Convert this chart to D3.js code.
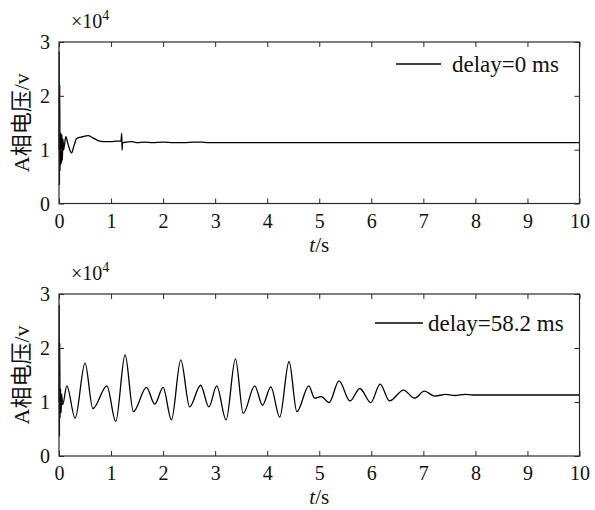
<!DOCTYPE html>
<html>
<head>
<meta charset="utf-8">
<script src="https://cdn.jsdelivr.net/npm/d3@7"></script>
<style>
  html, body { margin: 0; padding: 0; background: #fff; }
  svg { display: block; }
  text { font-family: "Liberation Serif", "Times New Roman", serif, "Noto Sans CJK SC"; fill: #111; }
</style>
</head>
<body>
<svg id="chart" width="595" height="510"></svg>
<script>
// Phase-A voltage (×10^4 V) after fault, no delay
const timeDelay0 = [0, 0.004, 0.009, 0.014, 0.019, 0.025, 0.032, 0.04, 0.048, 0.056, 0.064, 0.075, 0.09,
  0.13, 0.18, 0.24, 0.29, 0.34, 0.45, 0.56, 0.65, 0.75, 0.85, 1.0, 1.1, 1.19, 1.205, 1.212, 1.22,
  1.3, 1.4, 1.5, 1.65, 1.8, 2.0, 2.2, 2.4, 2.6, 2.75, 2.85, 10];
const voltDelay0 = [1.0, 2.83, 0.34, 2.2, 0.6, 1.32, 0.72, 1.3, 0.75, 1.28, 0.8, 1.2, 1.0,
  1.24, 1.08, 0.94, 1.08, 1.21, 1.24, 1.26, 1.22, 1.17, 1.15, 1.15, 1.16, 1.16, 1.30, 0.99, 1.13,
  1.14, 1.15, 1.13, 1.14, 1.13, 1.14, 1.13, 1.13, 1.14, 1.14, 1.13, 1.13];

// Phase-A voltage (×10^4 V) with 58.2 ms delay
const timeDelay58 = [0, 0.004, 0.009, 0.014, 0.02, 0.03, 0.04, 0.05, 0.07, 0.15, 0.31, 0.50, 0.65, 0.92,
  1.09, 1.27, 1.43, 1.68, 1.84, 2.0, 2.16, 2.34, 2.51, 2.72, 2.88, 3.03, 3.21, 3.39, 3.54, 3.76, 3.91,
  4.07, 4.24, 4.42, 4.57, 4.80, 4.91, 5.04, 5.19, 5.38, 5.59, 5.78, 5.99, 6.17, 6.35, 6.62, 6.83, 7.02,
  7.22, 7.43, 7.6, 7.8, 7.95, 8.0, 10];
const voltDelay58 = [1.0, 2.8, 0.36, 2.1, 0.7, 1.25, 0.8, 1.15, 0.95, 1.30, 0.70, 1.72, 0.88, 1.30,
  0.64, 1.87, 0.82, 1.27, 0.96, 1.27, 0.67, 1.78, 0.91, 1.31, 0.91, 1.30, 0.67, 1.80, 0.79, 1.30, 0.94,
  1.28, 0.72, 1.75, 0.82, 1.30, 1.07, 1.10, 0.99, 1.39, 1.02, 1.25, 0.99, 1.33, 1.02, 1.22, 1.07, 1.20,
  1.11, 1.14, 1.12, 1.14, 1.13, 1.13, 1.13];

const xTicks = [0, 1, 2, 3, 4, 5, 6, 7, 8, 9, 10];
const yTicks = [0, 1, 2, 3];
const legendLabels = ["delay=0 ms", "delay=58.2 ms"];
const yLabel = "A相电压/v";

const fontStack = '"Liberation Serif", "Times New Roman", serif, "Noto Sans CJK SC"';
const svg = d3.select("#chart");
const left = 59, right = 579.5;
const panels = [
  { top: 42, bottom: 203.5, t: timeDelay0, v: voltDelay0, label: legendLabels[0],
    leg: { x1: 396, x2: 441, y: 64, tx: 452, ty: 72 } },
  { top: 294, bottom: 456, t: timeDelay58, v: voltDelay58, label: legendLabels[1],
    leg: { x1: 375, x2: 423, y: 323, tx: 428, ty: 331 } }
];

const x = d3.scaleLinear().domain([0, 10]).range([left, right]);
const frameColor = "#2a2a2a";
const tickLen = 5;
const fs = 22;
const tickFs = 20;

panels.forEach(p => {
  const y = d3.scaleLinear().domain([0, 3]).range([p.bottom, p.top]);
  const g = svg.append("g");

  // plotted trace
  const pts = p.t.map((t, i) => [t, p.v[i]]);
  g.append("path")
    .datum(pts)
    .attr("fill", "none")
    .attr("stroke", "#000")
    .attr("stroke-width", 1.3)
    .attr("stroke-linejoin", "round")
    .attr("d", d3.line().x(d => x(d[0])).y(d => y(d[1])).curve(d3.curveMonotoneX));

  // axes with inward ticks on all four sides
  const fmt = d3.format("d");
  const bottomAxis = d3.axisBottom(x).tickValues(xTicks).tickFormat(fmt).tickSizeInner(-tickLen).tickSizeOuter(0).tickPadding(10);
  const topAxis = d3.axisTop(x).tickValues(xTicks).tickSizeInner(-tickLen).tickSizeOuter(0).tickFormat("");
  const leftAxis = d3.axisLeft(y).tickValues(yTicks).tickFormat(fmt).tickSizeInner(-tickLen).tickSizeOuter(0).tickPadding(9);
  const rightAxis = d3.axisRight(y).tickValues(yTicks).tickSizeInner(-tickLen).tickSizeOuter(0).tickFormat("");

  const gb = g.append("g").attr("transform", `translate(0,${p.bottom})`).call(bottomAxis);
  const gt = g.append("g").attr("transform", `translate(0,${p.top})`).call(topAxis);
  const gl = g.append("g").attr("transform", `translate(${left},0)`).call(leftAxis);
  const gr = g.append("g").attr("transform", `translate(${right},0)`).call(rightAxis);
  [gb, gt, gl, gr].forEach(a => {
    a.attr("font-family", fontStack);
    a.select(".domain").remove();
    a.selectAll(".tick line").attr("stroke", frameColor).attr("stroke-width", 1);
    a.selectAll(".tick text").attr("font-size", tickFs).attr("fill", "#111")
      .style("font-family", fontStack);
  });
  gl.selectAll(".tick text").attr("dy", "0.34em");

  // frame box
  g.append("rect")
    .attr("x", left).attr("y", p.top)
    .attr("width", right - left).attr("height", p.bottom - p.top)
    .attr("fill", "none").attr("stroke", frameColor).attr("stroke-width", 1.2);

  // exponent marker
  const ex = g.append("text").attr("x", 71).attr("y", p.top - 14).attr("font-size", 20);
  ex.append("tspan").text("×10");
  ex.append("tspan").attr("font-size", 14).attr("dy", -8).text("4");

  // y label
  g.append("text")
    .attr("transform", `translate(29,${(p.top + p.bottom) / 2}) rotate(-90)`)
    .attr("text-anchor", "middle")
    .attr("font-size", fs)
    .text(yLabel);

  // x label
  const xl = g.append("text")
    .attr("x", x(5)).attr("y", p.bottom + 48)
    .attr("text-anchor", "middle")
    .attr("font-size", 21);
  xl.append("tspan").attr("font-style", "italic").text("t");
  xl.append("tspan").text("/s");

  // legend
  g.append("line")
    .attr("x1", p.leg.x1).attr("x2", p.leg.x2)
    .attr("y1", p.leg.y).attr("y2", p.leg.y)
    .attr("stroke", "#000").attr("stroke-width", 1.3);
  g.append("text")
    .attr("x", p.leg.tx).attr("y", p.leg.ty)
    .attr("font-size", 23)
    .text(p.label);
});
</script>
</body>
</html>
